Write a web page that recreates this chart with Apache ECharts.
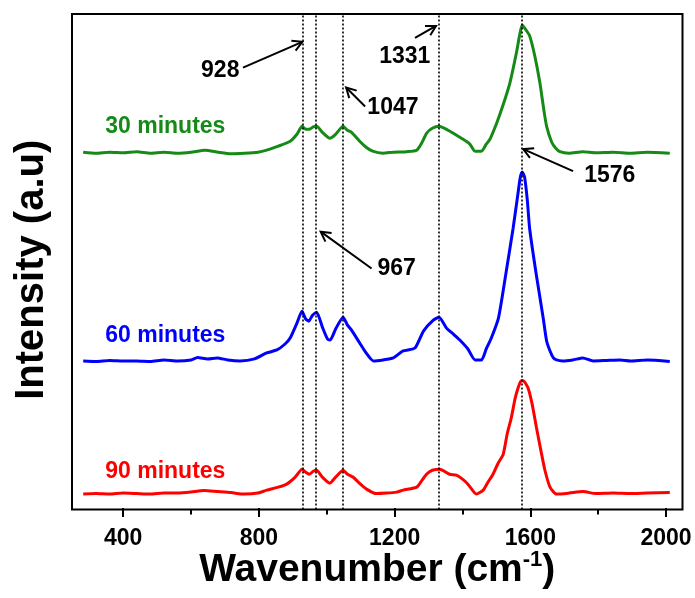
<!DOCTYPE html>
<html>
<head>
<meta charset="utf-8">
<script src="https://cdn.jsdelivr.net/npm/echarts@6/dist/echarts.min.js"></script>
<style>
  html, body { margin: 0; padding: 0; background: #fff; }
  #main { width: 695px; height: 598px; }
</style>
</head>
<body>
<div id="main"></div>
<script>
// spectra: [wavenumber, intensity (offset, arbitrary units)]
const green30 = [
  [282, 358], [320, 357], [360, 358], [400, 357.5], [440, 358.5], [480, 357], [520, 358], [560, 357],
  [600, 358], [641, 360], [680, 358], [718, 356.5], [757, 357], [797, 358], [823, 360], [857, 364],
  [892, 369], [912, 376], [927, 384], [938, 381], [949, 381], [960, 383.5], [970, 384], [987, 378],
  [1009, 372], [1026, 376], [1048, 384], [1061, 380], [1073, 378], [1097, 369], [1116, 363], [1135, 359],
  [1166, 357], [1196, 358], [1236, 358.5], [1265, 360], [1281, 368], [1294, 377], [1311, 382], [1331, 384],
  [1353, 381], [1373, 377], [1392, 373], [1411, 369], [1422, 366], [1437, 359], [1456, 359], [1470, 366],
  [1481, 371], [1496, 383], [1510, 396], [1525, 411], [1540, 428], [1559, 458], [1568, 475], [1576, 486],
  [1587, 481], [1598, 475], [1613, 455], [1628, 428], [1640, 400], [1648, 384], [1663, 368], [1675, 362],
  [1687, 358.5], [1714, 357], [1754, 358.5], [1794, 357.5], [1844, 358], [1894, 357], [1944, 358], [2011, 357]
];
const blue60 = [
  [282, 148], [320, 147.5], [360, 148.5], [400, 148], [440, 148], [480, 147.5], [520, 149], [560, 148],
  [600, 149], [619, 151.5], [649, 150], [677, 151], [708, 149], [744, 148], [787, 150], [823, 156],
  [853, 159], [877, 165], [892, 171], [912, 186], [927, 198], [938, 190], [947, 188], [958, 194],
  [970, 197], [987, 182], [1002, 170], [1010, 169], [1026, 180], [1048, 192], [1061, 184], [1073, 179],
  [1097, 166], [1116, 156], [1137, 148], [1166, 149], [1196, 151], [1225, 158], [1260, 161], [1285, 178],
  [1314, 189], [1331, 192], [1353, 181], [1373, 175], [1392, 169], [1416, 160], [1437, 149], [1456, 149],
  [1470, 160], [1485, 171], [1506, 191], [1528, 236], [1549, 281], [1563, 315], [1570, 332], [1576, 338],
  [1583, 333], [1591, 310], [1598, 281], [1617, 236], [1638, 191], [1648, 168], [1658, 158], [1668, 151],
  [1677, 149], [1695, 148], [1725, 149], [1755, 151], [1785, 148], [1825, 148.5], [1865, 149], [1895, 148],
  [1945, 149], [2011, 147.5]
];
const red90 = [
  [282, 14], [320, 14.5], [360, 14], [400, 15], [440, 14.5], [480, 14], [520, 15], [560, 15],
  [600, 16], [638, 17.5], [678, 16.5], [718, 15.5], [757, 14], [797, 15], [823, 18], [857, 21],
  [882, 24], [907, 31], [927, 39], [938, 36], [949, 34], [960, 37], [970, 38], [987, 31],
  [1009, 25], [1026, 31], [1048, 38], [1061, 34], [1078, 31], [1096, 25], [1117, 19], [1146, 14.5],
  [1176, 15], [1206, 16], [1225, 18], [1265, 21], [1281, 28], [1294, 34], [1311, 38], [1333, 39],
  [1362, 34], [1382, 33], [1400, 29], [1416, 24], [1441, 14], [1461, 18], [1475, 26], [1490, 34],
  [1505, 45], [1520, 54], [1532, 75], [1544, 91], [1555, 110], [1564, 121], [1573, 128], [1579, 128],
  [1593, 121], [1605, 105], [1618, 81], [1631, 58], [1643, 38], [1658, 21], [1677, 14], [1714, 15],
  [1755, 16.5], [1794, 14.5], [1844, 15], [1894, 14.5], [1944, 15], [2011, 15.5]
];

// peak positions marked with dotted lines
const peaks = [928, 967, 1047, 1331, 1576];

// tick values
const majorTicks = [400, 800, 1200, 1600, 2000];
const minorTicks = [600, 1000, 1400, 1800];

// series labels: name, colour, [wavenumber, intensity] of left / middle of text
const seriesLabels = [
  { text: '30 minutes', color: '#168a16', at: [347, 384] },
  { text: '60 minutes', color: '#0000ff', at: [347, 173] },
  { text: '90 minutes', color: '#ff0000', at: [347, 37] }
];

// peak annotations: text position, arrow tail and arrow tip (data coords)
const notes = [
  { text: '928', at: [686, 440], tail: [753, 443], tip: [928, 469] },
  { text: '1047', at: [1195, 403], tail: [1113, 404], tip: [1057, 423] },
  { text: '1331', at: [1230, 454], tail: [1260, 473], tip: [1322, 485] },
  { text: '1576', at: [1834, 334], tail: [1726, 339], tip: [1579, 361] },
  { text: '967', at: [1206, 241], tail: [1132, 241], tip: [982, 278] }
];

const font = 'Arial, "Liberation Sans", sans-serif';
const chart = echarts.init(document.getElementById('main'));

const xBase = {
  type: 'value',
  min: 249,
  max: 2048.5,
  position: 'bottom',
  splitLine: { show: false },
  axisLine: { show: false }
};

const option = {
  animation: false,
  grid: {
    left: 72, right: 12.5, top: 14, bottom: 88.5,
    outerBoundsMode: 'none',
    show: true, borderColor: '#000', borderWidth: 2
  },
  xAxis: [
    Object.assign({}, xBase, {
      axisTick: { customValues: majorTicks, length: 9, lineStyle: { color: '#000', width: 2 } },
      axisLabel: {
        customValues: majorTicks, margin: 18, color: '#000',
        fontSize: 23, fontWeight: 'bold', fontFamily: font,
        formatter: (v) => String(v)
      },
      name: '{t|Wavenumber (cm}{s|-1}{t|)}',
      nameLocation: 'middle',
      nameMoveOverlap: false,
      nameGap: 39,
      nameTextStyle: {
        rich: {
          t: { fontSize: 39, fontWeight: 'bold', fontFamily: font, color: '#000', lineHeight: 44 },
          s: { fontSize: 22, fontWeight: 'bold', fontFamily: font, color: '#000', verticalAlign: 'top', lineHeight: 44 }
        }
      }
    }),
    Object.assign({}, xBase, {
      axisTick: { customValues: minorTicks, length: 5, lineStyle: { color: '#000', width: 2 } },
      axisLabel: { show: false }
    })
  ],
  yAxis: {
    type: 'value',
    min: -1.5,
    max: 497,
    axisLine: { show: false },
    axisTick: { show: false },
    axisLabel: { show: false },
    splitLine: { show: false },
    name: 'Intensity (a.u)',
    nameLocation: 'middle',
    nameGap: 20,
    nameTextStyle: {
      fontSize: 40, fontWeight: 'bold', fontFamily: font, color: '#000',
      padding: [0, 16, 0, 0]
    }
  },
  series: [
    {
      type: 'line', data: [], z: 1, silent: true,
      markLine: {
        silent: true, symbol: 'none', label: { show: false },
        lineStyle: { type: [2, 2], color: '#000', width: 1.6 },
        data: peaks.map((v) => ({ xAxis: v }))
      }
    },
    { name: '30 minutes', data: green30, color: '#168a16' },
    { name: '60 minutes', data: blue60, color: '#0000ff' },
    { name: '90 minutes', data: red90, color: '#ff0000' }
  ].map((s) => Object.assign({ type: 'line', showSymbol: false, smooth: 0.2, z: 3, lineStyle: { width: 3 } }, s))
};

chart.setOption(option);

// texts and arrows placed through the axes
const toPx = (p) => chart.convertToPixel({ seriesIndex: 1 }, p);
const graphics = [];

seriesLabels.forEach((l) => {
  const p = toPx(l.at);
  graphics.push({
    type: 'text', z: 10,
    style: { text: l.text, x: p[0], y: p[1], fill: l.color, font: 'bold 23px ' + font, align: 'left', verticalAlign: 'middle' }
  });
});

notes.forEach((n) => {
  const p = toPx(n.at);
  const a = toPx(n.tail);
  const b = toPx(n.tip);
  const ang = Math.atan2(b[1] - a[1], b[0] - a[0]);
  const len = 11;
  const w1 = [b[0] - len * Math.cos(ang - 0.5), b[1] - len * Math.sin(ang - 0.5)];
  const w2 = [b[0] - len * Math.cos(ang + 0.5), b[1] - len * Math.sin(ang + 0.5)];
  graphics.push({
    type: 'text', z: 10,
    style: { text: n.text, x: p[0], y: p[1], fill: '#000', font: 'bold 23px ' + font, align: 'center', verticalAlign: 'middle' }
  });
  graphics.push({ type: 'polyline', z: 10, shape: { points: [a, b] }, style: { stroke: '#000', lineWidth: 2 } });
  graphics.push({ type: 'polyline', z: 10, shape: { points: [w1, b, w2] }, style: { stroke: '#000', lineWidth: 2, fill: null } });
});

chart.setOption({ graphic: graphics });
</script>
</body>
</html>
